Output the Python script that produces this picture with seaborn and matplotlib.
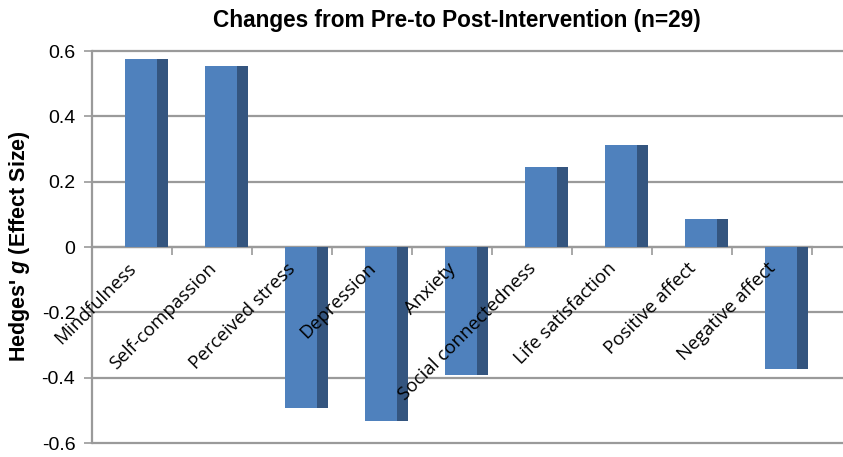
import numpy as np
import pandas as pd
import matplotlib
matplotlib.use("Agg")
import matplotlib.pyplot as plt
import seaborn as sns
from matplotlib.ticker import FixedLocator, FuncFormatter

categories = ["Mindfulness", "Self-compassion", "Perceived stress", "Depression",
              "Anxiety", "Social connectedness", "Life satisfaction",
              "Positive affect", "Negative affect"]
values = [0.577, 0.553, -0.493, -0.532, -0.393, 0.245, 0.313, 0.086, -0.372]
yticks = [-0.6, -0.4, -0.2, 0, 0.2, 0.4, 0.6]
ytick_labels = ["-0.6", "-0.4", "-0.2", "0", "0.2", "0.4", "0.6"]
title = "Changes from Pre-to Post-Intervention (n=29)"

sns.set_style("white")
plt.rcParams["font.family"] = ["Liberation Sans", "DejaVu Sans"]
plt.rcParams["mathtext.fontset"] = "custom"
plt.rcParams["mathtext.bfit"] = "Liberation Sans:italic:bold"
plt.rcParams["mathtext.it"] = "Liberation Sans:italic"
plt.rcParams["text.color"] = "black"
plt.rcParams["xtick.labelcolor"] = "black"
plt.rcParams["ytick.labelcolor"] = "black"

W, H = 843, 457
fig = plt.figure(figsize=(W / 100, H / 100), dpi=100)
ax = fig.add_axes([92 / W, 1 - 443 / H, (843 - 92) / W, (443 - 51) / H])

idx = np.arange(len(categories))
front = pd.DataFrame({"pos": idx + 0.114, "value": values})
side = pd.DataFrame({"pos": idx + 0.384, "value": values})

sns.barplot(data=side, x="pos", y="value", native_scale=True, width=0.142,
            color="#34557F", saturation=1, ax=ax, errorbar=None, zorder=3,
            linewidth=0, edgecolor="none")
sns.barplot(data=front, x="pos", y="value", native_scale=True, width=0.40,
            color="#4F81BD", saturation=1, ax=ax, errorbar=None, zorder=3,
            linewidth=0, edgecolor="none")

ax.set_ylim(-0.6, 0.6)
ax.set_xlim(-0.5, -0.5 + (843 - 92) / 80)

# gridlines
for yv in yticks:
    ax.axhline(yv, color="#9a9a9a", lw=1.6, zorder=1, clip_on=False)

ax.set_yticks(yticks)
ax.set_yticklabels(ytick_labels, fontsize=14)
ax.tick_params(axis="y", direction="out", length=6, width=1.2, color="#9a9a9a",
               left=True, pad=6, labelcolor="black")

# category axis at zero
ax.spines["bottom"].set_position(("data", 0))
ax.spines["bottom"].set_color("#9a9a9a")
ax.spines["bottom"].set_linewidth(1.6)
ax.spines["bottom"].set_bounds(-0.5, len(categories) - 0.5)
ax.spines["bottom"].set_zorder(2)
ax.spines["left"].set_color("#9a9a9a")
ax.spines["left"].set_linewidth(1.6)
ax.spines["top"].set_visible(False)
ax.spines["right"].set_visible(False)

ax.xaxis.set_major_locator(FixedLocator(np.arange(len(categories) + 1) - 0.5))
ax.xaxis.set_major_formatter(FuncFormatter(lambda v, p: ""))
ax.xaxis.set_minor_locator(FixedLocator(idx - 0.065))
ax.set_xticklabels(categories, minor=True, rotation=45, ha="right", va="top",
                   rotation_mode="anchor", fontsize=13.5, fontfamily="Open Sans",
                   color="black")
ax.tick_params(axis="x", which="major", direction="out", length=6, width=1.2,
               color="#9a9a9a", bottom=True)
ax.tick_params(axis="x", which="minor", length=0, pad=9)
ax.xaxis.set_zorder(5)
ax.set_xlabel("")
ax.set_ylabel("")

fig.text(20 / W, 1 - 246 / H, "Hedges' $\\mathbfit{g}$ (Effect Size)", rotation=90,
         ha="center", va="center", fontsize=15.5, fontweight="bold")
fig.text(457 / W, 1 - 20 / H, title, ha="center", va="center", fontsize=16.3,
         fontweight="bold")

fig.savefig("out.png", dpi=100)
